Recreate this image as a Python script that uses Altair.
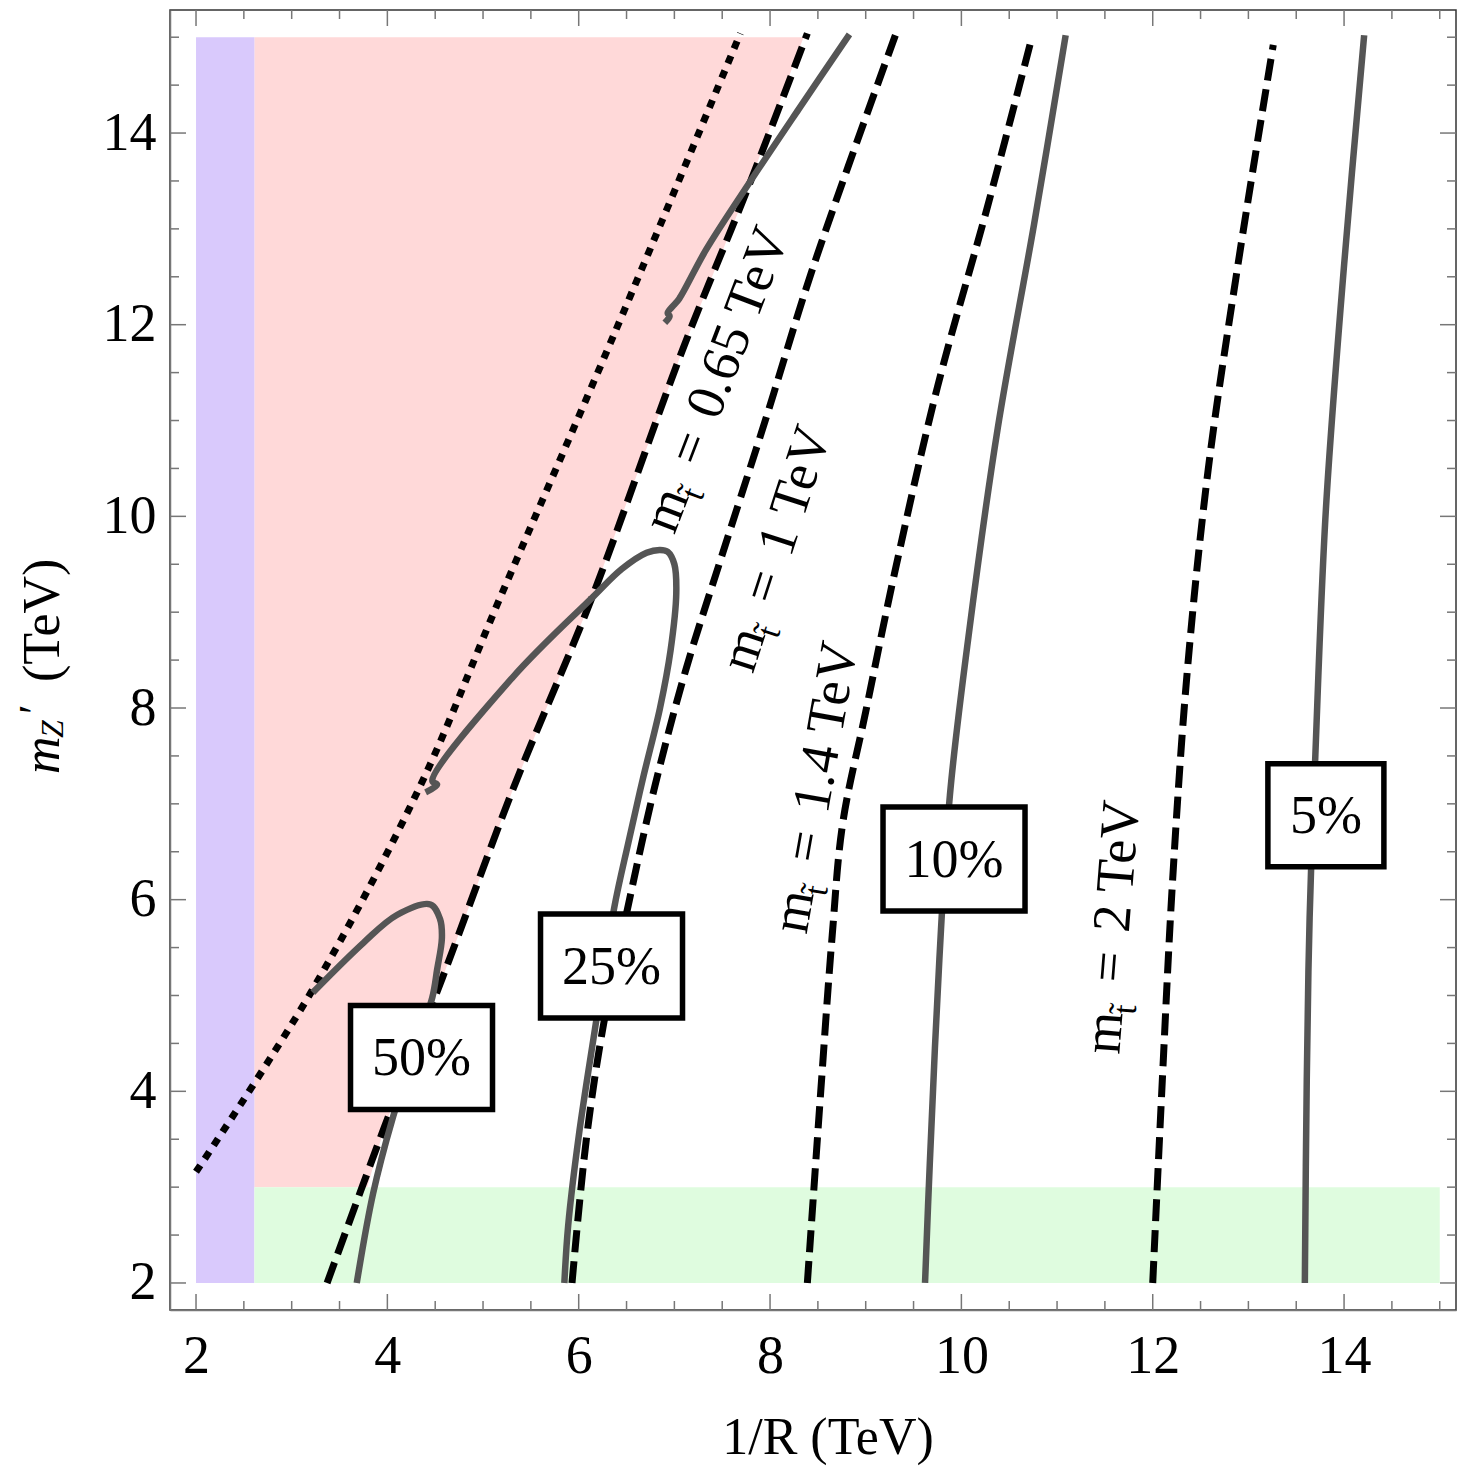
import altair as alt
import pandas as pd

# ------------------------------------------------------------------ data
FONT = "Liberation Serif"

XDOM = [1.728, 15.17]
YDOM = [1.718, 15.284]
AXIS_VALUES = [2, 4, 6, 8, 10, 12, 14]
MINOR_TICKS = [2.5, 3, 3.5, 4.5, 5, 5.5, 6.5, 7, 7.5, 8.5, 9, 9.5,
               10.5, 11, 11.5, 12.5, 13, 13.5, 14.5, 15]

# shaded regions
PURPLE_X = [2.0, 2.61]
PURPLE_Y = [2.0, 15.0]
GREEN_X = [2.61, 15.0]
GREEN_Y = [2.0, 3.0]
PINK_LEFT = 2.61
PINK_EDGE_X = [3.79, 3.97, 4.57, 5.32, 6.13, 7.09, 7.77, 8.35]
PINK_EDGE_Y = [3.0, 3.63, 5.17, 7.17, 9.13, 11.75, 13.43, 15.0]

# dotted boundary
DOT_X = [2.0, 3.2, 4.34, 5.17, 6.37, 7.69]
DOT_Y = [3.16, 5.03, 7.18, 9.13, 11.9, 15.04]

# stop-mass contours (dashed)
M065_X = [3.37, 3.97, 4.57, 5.32, 6.13, 7.09, 7.77, 8.39]
M065_Y = [2.0, 3.63, 5.17, 7.17, 9.13, 11.75, 13.43, 15.04]
M1_X = [5.93, 6.08, 6.26, 6.52, 6.8, 7.12, 7.5, 7.95, 8.45, 9.31]
M1_Y = [2.0, 3.5, 4.7, 5.95, 7.2, 8.4, 9.6, 11.0, 12.6, 15.02]
M14_X = [8.39, 8.53, 8.65, 8.76, 9.0, 9.3, 9.75, 10.27, 10.74]
M14_Y = [2.0, 4.0, 5.63, 6.8, 7.96, 9.4, 11.35, 13.22, 15.01]
M2_X = [12.0, 12.10, 12.21, 12.36, 12.58, 12.89, 13.26]
M2_Y = [2.0, 4.11, 6.24, 8.37, 10.49, 12.62, 14.92]

# tuning contours (grey)
G5_X = [13.59, 13.61, 13.64, 13.70, 13.81, 14.0, 14.21]
G5_Y = [2.0, 4.11, 5.81, 7.51, 10.07, 12.62, 15.02]
G10_X = [9.62, 9.67, 9.77, 9.88, 10.08, 10.38, 10.76, 11.09]
G10_Y = [2.0, 3.25, 5.38, 7.09, 8.79, 10.92, 13.05, 15.02]
G25_X = [5.85, 5.89, 6.0, 6.17, 6.37, 6.52, 6.68, 6.85, 6.96, 7.02, 7.0,
         6.93, 6.85, 6.71, 6.45, 6.15, 5.31, 4.47, 4.52, 4.40]
G25_Y = [2.0, 2.6, 3.53, 4.65, 5.91, 6.6, 7.3, 8.0, 8.6, 9.2, 9.5,
         9.63, 9.65, 9.62, 9.45, 9.16, 8.32, 7.24, 7.2, 7.12]
G50_X = [3.68, 3.85, 4.05, 4.26, 4.47, 4.52, 4.57, 4.55, 4.45, 4.1, 3.75, 3.22]
G50_Y = [2.0, 2.93, 3.70, 4.35, 4.98, 5.27, 5.6, 5.8, 5.95, 5.84, 5.55, 5.03]
GUP_X = [8.83, 8.3, 7.77, 7.33, 7.05, 6.99, 6.93, 6.95, 6.90]
GUP_Y = [15.03, 14.25, 13.46, 12.78, 12.27, 12.2, 12.12, 12.09, 12.02]

# boxed percentage labels
BOX_TEXT = ["50%", "25%", "10%"]
BOX_X = [4.357, 6.343, 9.923]
BOX_Y = [4.353, 5.308, 6.424]
BOX5_TEXT = ["5%"]
BOX5_X = [13.81]
BOX5_Y = [6.88]

# rotated stop-mass labels (start of baseline)
LBL_VAL = ["0.65 TeV", "1 TeV", "1.4 TeV", "2 TeV"]
LBL_X = [7.0, 7.82, 8.38, 11.65]
LBL_Y = [9.8, 8.35, 5.63, 4.38]
LBL_ANGLE = [291, 288, 280, 274.5]

# ------------------------------------------------------------------ styles
W, H = 1286, 1300
GREY = "#555555"
TICK = "#777777"

xs = alt.Scale(domain=XDOM, nice=False, zero=False)
ys = alt.Scale(domain=YDOM, nice=False, zero=False)
xaxis = alt.Axis(values=AXIS_VALUES, title=None, grid=False, ticks=False,
                 labelFont=FONT, labelFontSize=54, labelColor="black",
                 labelPadding=19, domainColor=TICK, domainWidth=1.5,
                 format="d", labelFlush=False)
yaxis = alt.Axis(values=AXIS_VALUES, title=None, grid=False, ticks=False,
                 labelFont=FONT, labelFontSize=54, labelColor="black",
                 labelPadding=14, domainColor=TICK, domainWidth=1.5,
                 format="d", labelFlush=False)


def X(f="x"):
    return alt.X(f"{f}:Q", scale=xs, axis=xaxis)


def Y(f="y"):
    return alt.Y(f"{f}:Q", scale=ys, axis=yaxis)


def path_df(xv, yv):
    return pd.DataFrame({"x": xv, "y": yv, "i": list(range(len(xv)))})


layers = []

# regions
rect_df = pd.DataFrame({
    "x0": [PURPLE_X[0], GREEN_X[0]], "x1": [PURPLE_X[1], GREEN_X[1]],
    "y0": [PURPLE_Y[0], GREEN_Y[0]], "y1": [PURPLE_Y[1], GREEN_Y[1]],
    "c": ["#D9C9FC", "#DFFCDF"]})
pink_df = pd.DataFrame({"x": PINK_EDGE_X, "y": PINK_EDGE_Y,
                        "x0": [PINK_LEFT] * len(PINK_EDGE_X)})
layers.append(alt.Chart(pink_df).mark_area(orient="horizontal", color="#FFD9D9")
              .encode(y=Y("y"), x=X("x"), x2="x0"))
layers.append(alt.Chart(rect_df).mark_rect().encode(
    x=X("x0"), x2="x1", y=Y("y0"), y2="y1",
    color=alt.Color("c:N", scale=None)))


def line(xv, yv, color, dash=None, width=6.5):
    kw = dict(color=color, strokeWidth=width, strokeCap="butt",
              strokeJoin="round", interpolate="catmull-rom")
    if dash:
        kw["strokeDash"] = dash
    return alt.Chart(path_df(xv, yv)).mark_line(**kw).encode(
        x=X(), y=Y(), order="i:Q")


layers.append(line(DOT_X, DOT_Y, "black", [8, 8], 7))
for lx, ly in [(M065_X, M065_Y), (M1_X, M1_Y), (M14_X, M14_Y), (M2_X, M2_Y)]:
    layers.append(line(lx, ly, "black", [22, 9], 7))
for gx, gy in [(G5_X, G5_Y), (G10_X, G10_Y), (G25_X, G25_Y), (G50_X, G50_Y), (GUP_X, GUP_Y)]:
    layers.append(line(gx, gy, GREY, None, 6.5))

# boxes
box_df = pd.DataFrame({"x": BOX_X, "y": BOX_Y, "t": BOX_TEXT})
box5_df = pd.DataFrame({"x": BOX5_X, "y": BOX5_Y, "t": BOX5_TEXT})
layers.append(alt.Chart(box_df).mark_point(
    shape="M-1,-0.732L1,-0.732L1,0.732L-1,0.732Z", size=142 * 142,
    filled=True, fill="white", stroke="black", strokeWidth=5.5, opacity=1
).encode(x=X(), y=Y()))
layers.append(alt.Chart(box5_df).mark_point(
    shape="M-1,-0.888L1,-0.888L1,0.888L-1,0.888Z", size=116 * 116,
    filled=True, fill="white", stroke="black", strokeWidth=5.5, opacity=1
).encode(x=X(), y=Y()))
for d in (box_df, box5_df):
    layers.append(alt.Chart(d).mark_text(
        font=FONT, fontSize=54, color="black", align="center", baseline="middle", dy=2
    ).encode(x=X(), y=Y(), text="t:N"))

# rotated labels
lbl_df = pd.DataFrame({"x": LBL_X, "y": LBL_Y, "a": LBL_ANGLE, "v": LBL_VAL})
lb = alt.Chart(lbl_df).encode(x=X(), y=Y(), angle=alt.Angle("a:Q", scale=None))
tstyle = dict(font=FONT, color="black", align="left", baseline="alphabetic")
layers.append(lb.mark_text(text="m", fontSize=54, **tstyle))
layers.append(lb.mark_text(text="t\u0303", fontSize=34, dx=41, dy=13, **tstyle))
layers.append(lb.mark_text(text="=", fontSize=54, dx=72, **tstyle))
layers.append(lb.encode(text="v:N").mark_text(fontSize=54, dx=122, **tstyle))

# inward frame ticks
maj = pd.DataFrame({"t": AXIS_VALUES})
mnr = pd.DataFrame({"t": MINOR_TICKS})
for d, L in ((maj, 16), (mnr, 9)):
    rs = dict(color=TICK, strokeWidth=1.5)
    layers.append(alt.Chart(d).mark_rule(**rs).encode(
        x=X("t"), y=alt.value(H), y2=alt.value(H - L)))
    layers.append(alt.Chart(d).mark_rule(**rs).encode(
        x=X("t"), y=alt.value(0), y2=alt.value(L)))
    layers.append(alt.Chart(d).mark_rule(**rs).encode(
        y=Y("t"), x=alt.value(0), x2=alt.value(L)))
    layers.append(alt.Chart(d).mark_rule(**rs).encode(
        y=Y("t"), x=alt.value(W), x2=alt.value(W - L)))

# axis titles
one = pd.DataFrame({"k": [0]})
layers.append(alt.Chart(one).mark_text(
    text="1/R (TeV)", font=FONT, fontSize=52, color="black",
    align="center", baseline="alphabetic"
).encode(x=alt.value(658), y=alt.value(1444)))
ty = dict(font=FONT, color="black", align="left", baseline="alphabetic", angle=270)
yt = alt.Chart(one).encode(x=alt.value(-111), y=alt.value(764))
layers.append(yt.mark_text(text="m", fontSize=52, fontStyle="italic", **ty))
layers.append(yt.mark_text(text="Z", fontSize=32, fontStyle="italic", dx=36, dy=4, **ty))
layers.append(yt.mark_text(text="\u2032", fontSize=44, dx=60, dy=-10, **ty))
layers.append(yt.mark_text(text="(TeV)", fontSize=52, dx=92, **ty))

chart = alt.layer(*layers).properties(
    width=W, height=H,
    padding={"left": 170, "top": 10, "right": 1, "bottom": 157},
    autosize=alt.AutoSizeParams(type="none"),
    background="white",
).configure_view(stroke="#333333", strokeWidth=1.5)

chart.save("out.html", embed_options={"renderer": "svg", "actions": False})
